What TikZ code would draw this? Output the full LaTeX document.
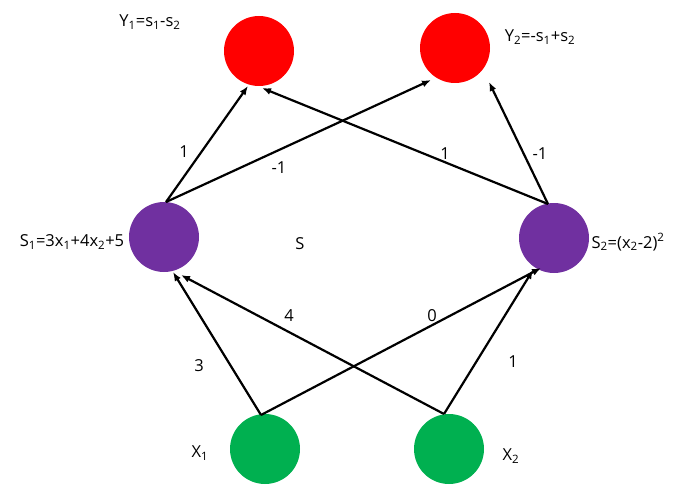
\documentclass[tikz,border=0pt]{standalone}
\usepackage{fontspec}
\setmainfont{Open Sans}
\usetikzlibrary{arrows.meta}
\begin{document}
\begin{tikzpicture}[x=1pt,y=-1pt,
  nd/.style={circle,minimum size=70pt,inner sep=0pt},
  ar/.style={-{Latex[length=9pt,width=7pt]},line width=2.2pt},
  lb/.style={font=\fontsize{16.5}{18}\selectfont,inner sep=0pt}]
\useasboundingbox (0,0) rectangle (692,489);
\definecolor{cr}{RGB}{255,0,0}
\definecolor{cp}{RGB}{112,48,160}
\definecolor{cg}{RGB}{0,176,80}
\node[nd,fill=cr] (y1) at (259,51) {};
\node[nd,fill=cr] (y2) at (455,48) {};
\node[nd,fill=cp] (s1) at (164,237) {};
\node[nd,fill=cp] (s2) at (554,238) {};
\node[nd,fill=cg] (x1) at (265,449) {};
\node[nd,fill=cg] (x2) at (449,449) {};
\coordinate (s1t) at (166,202);
\coordinate (s2t) at (548,204);
\coordinate (x1t) at (261,415);
\coordinate (x2t) at (444,414);
\coordinate (y1a) at (248,86);
\coordinate (y1b) at (262,88);
\coordinate (y2a) at (431,80);
\coordinate (y2b) at (489,82);
\coordinate (s1a) at (173,272);
\coordinate (s1b) at (181,275);
\coordinate (s2a) at (541,268);
\coordinate (s2b) at (533,270);
\draw[ar] (s1t) -- (y1a);
\draw[ar] (s1t) -- (y2a);
\draw[ar] (s2t) -- (y1b);
\draw[ar] (s2t) -- (y2b);
\draw[ar] (x1t) -- (s1a);
\draw[ar] (x1t) -- (s2a);
\draw[ar] (x2t) -- (s1b);
\draw[ar] (x2t) -- (s2b);
\node[lb] (ly1) at (150,22) {Y\textsubscript{1}=s\textsubscript{1}-s\textsubscript{2}};
\node[lb] (ly2) at (540,37) {Y\textsubscript{2}=-s\textsubscript{1}+s\textsubscript{2}};
\node[lb] (ls1) at (72,242) {S\textsubscript{1}=3x\textsubscript{1}+4x\textsubscript{2}+5};
\node[lb] (ls2) at (628,242) {S\textsubscript{2}=(x\textsubscript{2}-2)\textsuperscript{2}};
\node[lb] (ls) at (300,244) {S};
\node[lb] (lx1) at (200,453) {X\textsubscript{1}};
\node[lb] (lx2) at (511,456) {X\textsubscript{2}};
\node[lb] at (184,152) {1};
\node[lb] at (279,168) {-1};
\node[lb] at (445,154) {1};
\node[lb] at (540,154) {-1};
\node[lb] at (289,316) {4};
\node[lb] at (432,316) {0};
\node[lb] at (199,366) {3};
\node[lb] at (513,362) {1};
\end{tikzpicture}
\end{document}
